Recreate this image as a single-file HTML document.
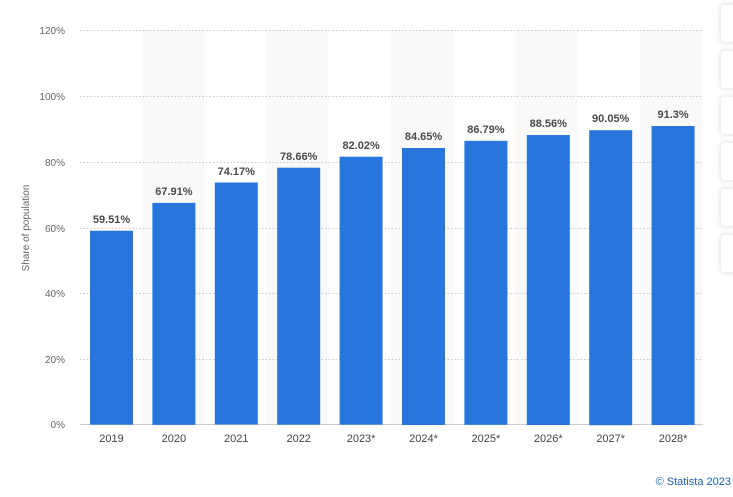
<!DOCTYPE html>
<html><head><style>
body{margin:0;width:733px;height:497px;background:#fff;overflow:hidden;position:relative;font-family:"Liberation Sans",sans-serif}
.btn{position:absolute;left:720px;width:30px;height:37px;background:#fff;border-radius:4px;box-shadow:0 0 4px rgba(0,0,0,0.12);border:1px solid #f0f0f0}
</style></head><body>
<svg width="733" height="497" style="position:absolute;left:0;top:0" font-family="Liberation Sans, sans-serif">
<g fill="#f9f9f9">
<rect x="141.4" y="30" width="62.4" height="395"/>
<rect x="266.2" y="30" width="62.4" height="395"/>
<rect x="391" y="30" width="62.4" height="395"/>
<rect x="515.8" y="30" width="62.4" height="395"/>
<rect x="640.6" y="30" width="62.4" height="395"/>
</g>
<g stroke="#c8c8c8" stroke-dasharray="1.5,2" stroke-width="1">
<line x1="80" x2="703" y1="30.5" y2="30.5"/>
<line x1="80" x2="703" y1="96.5" y2="96.5"/>
<line x1="80" x2="703" y1="162.5" y2="162.5"/>
<line x1="80" x2="703" y1="228.5" y2="228.5"/>
<line x1="80" x2="703" y1="293.5" y2="293.5"/>
<line x1="80" x2="703" y1="359.5" y2="359.5"/>
</g>
<line x1="80" x2="703" y1="424.5" y2="424.5" stroke="#ccc"/>
<g font-size="10" fill="#666" text-anchor="end">
<text x="65" y="34">120%</text><text x="65" y="100">100%</text><text x="65" y="166">80%</text>
<text x="65" y="232">60%</text><text x="65" y="297">40%</text><text x="65" y="363">20%</text><text x="65" y="428">0%</text>
</g>
<text transform="translate(29,228) rotate(-90)" font-size="10" fill="#666" text-anchor="middle">Share of population</text>
<g fill="#2876dd">
<rect x="90" y="230.7" width="43" height="194"/>
<rect x="152.4" y="202.9" width="43" height="222"/>
<rect x="214.8" y="182.5" width="43" height="242"/>
<rect x="277.2" y="167.7" width="43" height="257"/>
<rect x="339.6" y="156.7" width="43" height="268"/>
<rect x="402" y="148" width="43" height="277"/>
<rect x="464.4" y="140.8" width="43" height="284"/>
<rect x="526.8" y="135" width="43" height="290"/>
<rect x="589.2" y="130.2" width="43" height="295"/>
<rect x="651.6" y="126" width="43" height="299"/>
</g>
<g font-size="11" font-weight="bold" fill="#4a4a4a" text-anchor="middle">
<text x="111.5" y="223">59.51%</text><text x="173.9" y="195">67.91%</text><text x="236.3" y="175">74.17%</text>
<text x="298.7" y="160">78.66%</text><text x="361.1" y="149">82.02%</text><text x="423.5" y="140">84.65%</text>
<text x="485.9" y="133">86.79%</text><text x="548.3" y="127">88.56%</text><text x="610.7" y="122">90.05%</text>
<text x="673.1" y="118">91.3%</text>
</g>
<g font-size="11" fill="#444" text-anchor="middle">
<text x="111.5" y="442">2019</text><text x="173.9" y="442">2020</text><text x="236.3" y="442">2021</text>
<text x="298.7" y="442">2022</text><text x="361.1" y="442">2023*</text><text x="423.5" y="442">2024*</text>
<text x="485.9" y="442">2025*</text><text x="548.3" y="442">2026*</text><text x="610.7" y="442">2027*</text>
<text x="673.1" y="442">2028*</text>
</g>
<text x="731" y="485" font-size="11" fill="#1a5fb4" text-anchor="end">© Statista 2023</text>
</svg>
<div class="btn" style="top:4px"></div>
<div class="btn" style="top:50px"></div>
<div class="btn" style="top:96px"></div>
<div class="btn" style="top:142px"></div>
<div class="btn" style="top:188px"></div>
<div class="btn" style="top:234px"></div>
</body></html>
